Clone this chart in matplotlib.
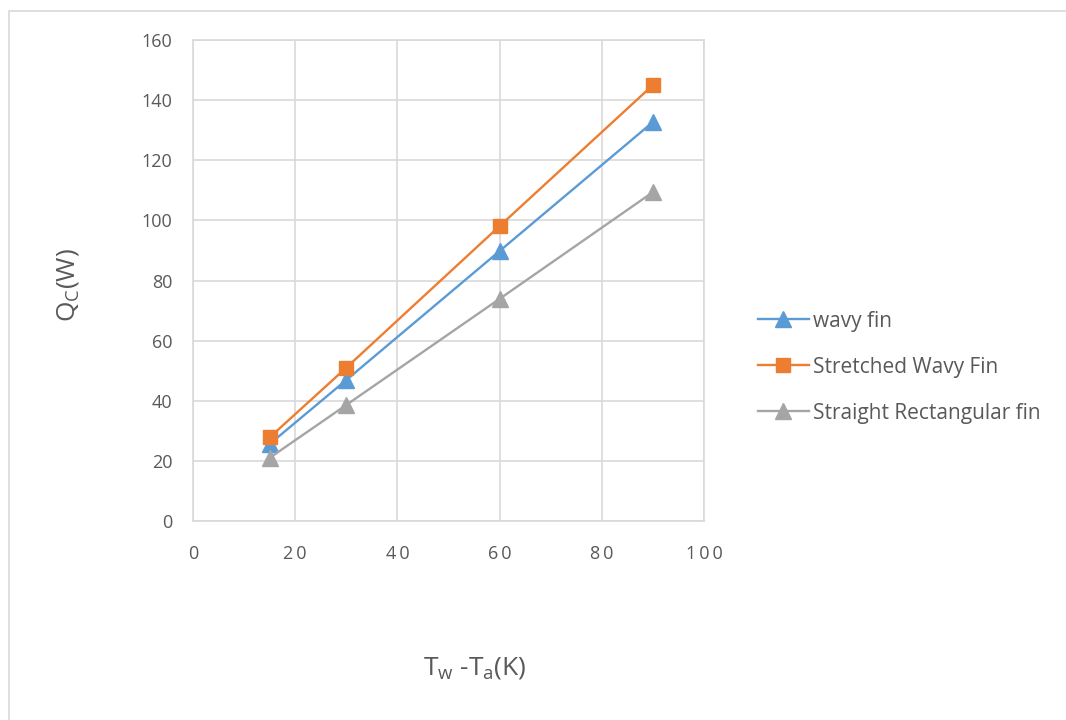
import matplotlib
matplotlib.use("Agg")
import matplotlib.pyplot as plt
from matplotlib.patches import Rectangle

# Temperature difference (K) and convective heat transfer (W)
delta_t = [15, 30, 60, 90]
wavy_fin = [25.6, 46.9, 89.8, 132.7]
stretched_wavy_fin = [27.8, 51.0, 98.1, 145.0]
straight_rect_fin = [21.0, 38.6, 73.9, 109.4]

series_labels = ["wavy fin", "Stretched Wavy Fin", "Straight Rectangular fin"]
x_ticks = [0, 20, 40, 60, 80, 100]
y_ticks = [0, 20, 40, 60, 80, 100, 120, 140, 160]

plt.rcParams["font.family"] = ["Open Sans", "DejaVu Sans"]
text_color = "#595959"
grid_color = "#d9d9d9"

fig = plt.figure(figsize=(10.66, 7.2), dpi=100)
fig.patch.set_facecolor("white")

# chart-area border
fig.add_artist(Rectangle((9 / 1066, -0.05), 1.1, 1 - 11 / 720 + 0.05,
                         transform=fig.transFigure, fill=False,
                         edgecolor=grid_color, linewidth=1.2))

ax = fig.add_axes([193 / 1066, 1 - 521 / 720, (704 - 193) / 1066, (521 - 40) / 720])

ax.plot(delta_t, wavy_fin, color="#5B9BD5", lw=1.7, marker="^", ms=11,
        label=series_labels[0], zorder=3)
ax.plot(delta_t, stretched_wavy_fin, color="#ED7D31", lw=1.7, marker="s", ms=10,
        label=series_labels[1], zorder=3)
ax.plot(delta_t, straight_rect_fin, color="#A5A5A5", lw=1.7, marker="^", ms=11,
        label=series_labels[2], zorder=3)

ax.set_xlim(0, 100)
ax.set_ylim(0, 160)
ax.set_xticks(x_ticks)
ax.set_yticks(y_ticks)
ax.set_xticklabels(["\u2009".join(str(t)) for t in x_ticks])
ax.grid(True, color=grid_color, lw=1.2, zorder=0)
ax.set_axisbelow(True)
for s in ax.spines.values():
    s.set_color(grid_color)
    s.set_linewidth(1.2)
ax.tick_params(axis="both", length=0, labelsize=13, colors=text_color)
ax.tick_params(axis="x", pad=17)
ax.tick_params(axis="y", pad=15)

fig.text(68 / 1066, 1 - 285 / 720, r"Q$_\mathregular{C}$(W)", rotation=90,
         ha="center", va="center", fontsize=19, color=text_color)
fig.text(475 / 1066, 1 - 668 / 720, r"T$_\mathregular{w}$ -T$_\mathregular{a}$(K)",
         ha="center", va="center", fontsize=19, color=text_color)

leg = fig.legend(loc="center left", bbox_to_anchor=(739 / 1066, 1 - 367 / 720),
                 frameon=False, fontsize=15, labelcolor=text_color,
                 handlelength=2.45, handletextpad=0.2, labelspacing=1.2)

fig.savefig("out.png", dpi=100, facecolor="white")
